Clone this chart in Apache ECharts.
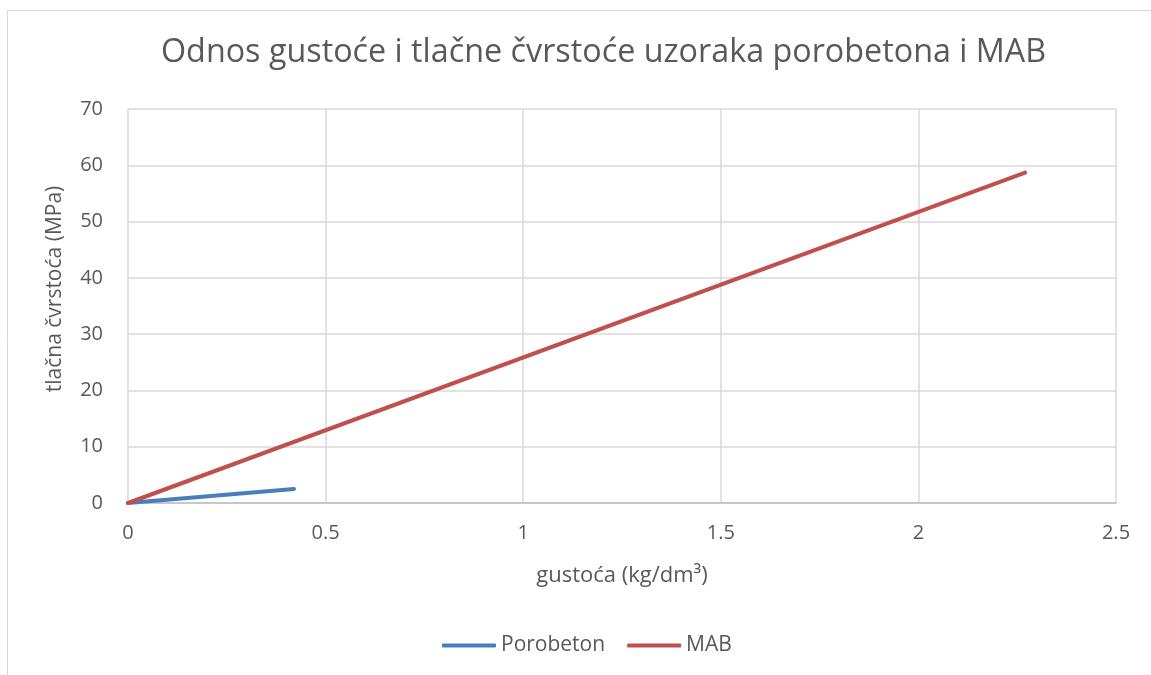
<!DOCTYPE html>
<html><head><meta charset="utf-8">
<script src="https://cdn.jsdelivr.net/npm/echarts@6/dist/echarts.min.js"></script>
<style>html,body{margin:0;padding:0;background:#fff}#c{width:1151px;height:675px}</style>
</head><body><div id="c"></div>
<script>
const titleText = 'Odnos gustoće i tlačne čvrstoće uzoraka porobetona i MAB';
const seriesNames = ['Porobeton', 'MAB'];
const porobetonX = [0, 0.42];
const porobetonY = [0, 2.5];
const mabX = [0, 2.27];
const mabY = [0, 58.7];
const xAxisName = 'gustoća (kg/dm³)';
const yAxisName = 'tlačna čvrstoća (MPa)';

const font = 'Open Sans, Noto Sans, sans-serif';
const chart = echarts.init(document.getElementById('c'));
chart.setOption({
  animation: false,
  backgroundColor: '#fff',
  graphic: [{type:'rect', shape:{x:7.5,y:10.5,width:1200,height:700}, style:{fill:'none',stroke:'#d9d9d9',lineWidth:1}, silent:true}],
  title: {text: titleText, left: 156, top: 32,
    textStyle:{fontFamily:font, fontSize:32.3, fontWeight:'normal', color:'#595959'}},
  legend: {bottom: 14, left: 437, itemWidth: 54, itemHeight: 4, itemGap: 22,
    icon: 'roundRect',
    textStyle:{fontFamily:font, fontSize:21, color:'#595959'},
    data: seriesNames},
  grid: {left:128, right:35, top:109, bottom:172},
  xAxis: {type:'value', min:0, max:2.5, interval:0.5,
    name: xAxisName, nameLocation:'middle', nameGap: 62,
    nameTextStyle:{fontFamily:font, fontSize:22, color:'#595959'},
    axisLine:{show:true, lineStyle:{color:'#bfbfbf', width:1.5}},
    axisTick:{show:false},
    axisLabel:{fontFamily:font, fontSize:20, color:'#595959', margin:20},
    splitLine:{show:true, lineStyle:{color:'#d9d9d9', width:1.5}}},
  yAxis: {type:'value', min:0, max:70, interval:10,
    name: yAxisName, nameLocation:'middle', nameGap: 62, nameRotate: 90,
    nameTextStyle:{fontFamily:font, fontSize:21, color:'#595959', padding:[0,0,0,34]},
    axisLine:{show:false}, axisTick:{show:false},
    axisLabel:{fontFamily:font, fontSize:20, color:'#595959', margin:25},
    splitLine:{show:true, lineStyle:{color:'#d9d9d9', width:1.5}}},
  series: [
    {name: seriesNames[0], type:'line', showSymbol:false, symbol:'none',
     data: porobetonX.map((x,i)=>[x, porobetonY[i]]),
     lineStyle:{color:'#4a7ebb', width:4, cap:'round'}, itemStyle:{color:'#4a7ebb'}},
    {name: seriesNames[1], type:'line', showSymbol:false, symbol:'none',
     data: mabX.map((x,i)=>[x, mabY[i]]),
     lineStyle:{color:'#c0504d', width:4, cap:'round'}, itemStyle:{color:'#c0504d'}}
  ]
});
</script></body></html>
